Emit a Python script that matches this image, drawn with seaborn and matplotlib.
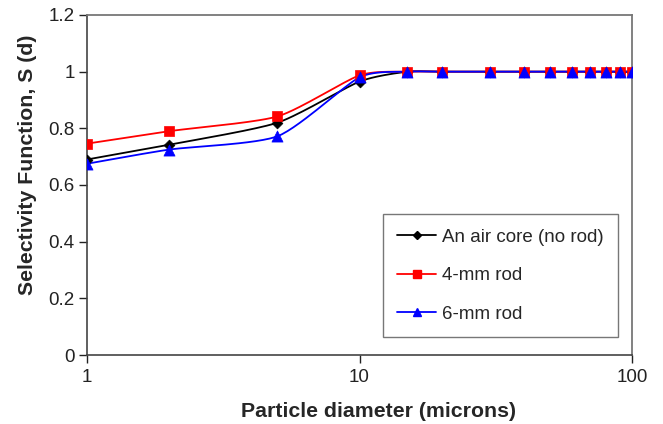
import numpy as np
import matplotlib
matplotlib.use("Agg")
import matplotlib.pyplot as plt
import seaborn as sns
import pandas as pd

diameter = [1, 2, 5, 10, 15, 20, 30, 40, 50, 60, 70, 80, 90, 100]
air_core = [0.69, 0.742, 0.82, 0.965, 1, 1, 1, 1, 1, 1, 1, 1, 1, 1]
rod_4mm = [0.746, 0.79, 0.842, 0.987, 1, 1, 1, 1, 1, 1, 1, 1, 1, 1]
rod_6mm = [0.675, 0.725, 0.772, 0.98, 1, 1, 1, 1, 1, 1, 1, 1, 1, 1]

series = {
    "An air core (no rod)": (air_core, "black", "D", 5.5),
    "4-mm rod": (rod_4mm, "red", "s", 7),
    "6-mm rod": (rod_6mm, "blue", "^", 8),
}

sns.set_theme(style="white")
plt.rcParams["font.family"] = ["Liberation Sans", "DejaVu Sans"]

fig = plt.figure(figsize=(6.63, 4.24), dpi=100)
ax = fig.add_axes([87 / 663, 1 - 355 / 424, (632 - 87) / 663, (355 - 15) / 424])


def smooth(xs, ys, n=30, tension=0.5):
    # Excel-like Catmull-Rom smoothing of the drawn line (in log-x space)
    u = np.log10(np.asarray(xs, float))
    v = np.asarray(ys, float)
    su = u / 2.0 * 545
    sv = v / 1.2 * 340
    P = np.column_stack([su, sv])
    out = []
    for i in range(len(P) - 1):
        p0 = P[i - 1] if i > 0 else P[i]
        p1 = P[i]
        p2 = P[i + 1]
        p3 = P[i + 2] if i + 2 < len(P) else P[i + 1]
        m1 = (p2 - p0) * tension / 1.5
        m2 = (p3 - p1) * tension / 1.5
        t = np.linspace(0, 1, n)[:, None]
        h00 = 2 * t**3 - 3 * t**2 + 1
        h10 = t**3 - 2 * t**2 + t
        h01 = -2 * t**3 + 3 * t**2
        h11 = t**3 - t**2
        seg = h00 * p1 + h10 * m1 + h01 * p2 + h11 * m2
        out.append(seg if i == 0 else seg[1:])
    S = np.vstack(out)
    return 10 ** (S[:, 0] / 545 * 2.0), S[:, 1] / 340 * 1.2


handles = []
for label, (vals, color, marker, ms) in series.items():
    sx, sy = smooth(diameter, vals)
    ax.plot(sx, sy, color=color, lw=1.3, zorder=2)
    df = pd.DataFrame({"d": diameter, "s": vals})
    sns.scatterplot(data=df, x="d", y="s", ax=ax, color=color, marker=marker,
                    s=ms**2, edgecolor=color, linewidth=0.5, zorder=3, legend=False)
    h, = ax.plot([], [], color=color, lw=1.3, marker=marker, ms=ms * 0.8,
                 markeredgecolor=color, label=label)
    handles.append(h)

ax.set_xscale("log")
ax.set_xlim(1, 100)
ax.set_ylim(0, 1.2)
ax.set_xticks([1, 10, 100])
ax.set_xticklabels(["1", "10", "100"])
ax.xaxis.set_minor_locator(matplotlib.ticker.NullLocator())
ax.set_yticks([0, 0.2, 0.4, 0.6, 0.8, 1.0, 1.2])
ax.set_yticklabels(["0", "0.2", "0.4", "0.6", "0.8", "1", "1.2"])
ax.tick_params(axis="both", labelsize=13.5, colors="#222222", length=6, width=1,
               direction="out", bottom=True, left=True, pad=3)
ax.tick_params(axis="x", pad=4)

for side in ["top", "right"]:
    ax.spines[side].set_color("#777777")
    ax.spines[side].set_linewidth(1.3)
for side in ["left", "bottom"]:
    ax.spines[side].set_color("#444444")
    ax.spines[side].set_linewidth(1.2)

ax.set_xlabel("Particle diameter (microns)", fontsize=15.3, fontweight="bold")
ax.set_ylabel("Selectivity Function, S (d)", fontsize=15.3, fontweight="bold")
ax.xaxis.set_label_coords(0.534, -0.138)
ax.yaxis.set_label_coords(-0.092, 0.56)

leg = ax.legend(handles=handles, loc="lower left", bbox_to_anchor=((383 - 87) / 545, (355 - 337) / 340),
                fontsize=13.5, frameon=True, fancybox=False, borderpad=0.75,
                labelspacing=1.15, handlelength=2.1, handletextpad=0.3, borderaxespad=0)
leg.get_frame().set_edgecolor("#555555")
leg.get_frame().set_linewidth(1.0)

fig.savefig("out.png", dpi=100)
